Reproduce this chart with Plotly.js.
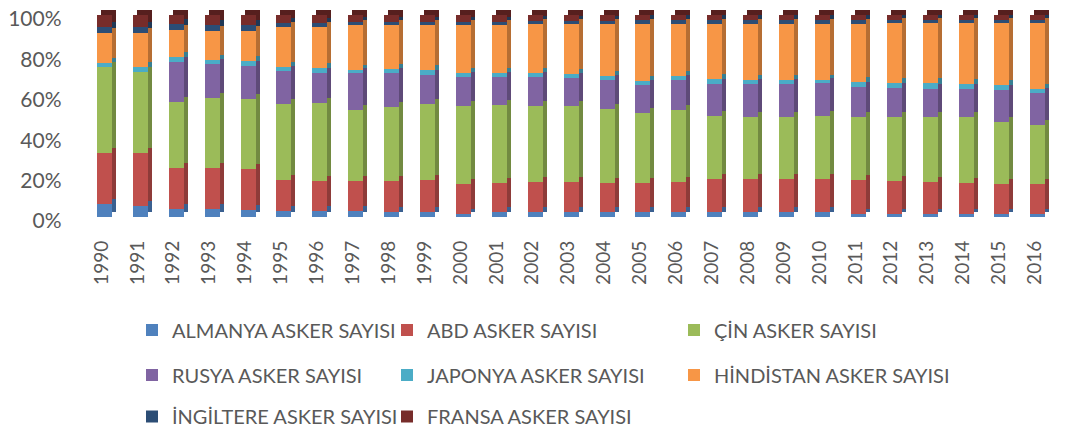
<!DOCTYPE html>
<html>
<head>
<meta charset="utf-8">
<script src="https://cdn.plot.ly/plotly-3.0.1.min.js"></script>
<style>html,body{margin:0;padding:0;background:#fff;}#chart{width:1065px;height:436px;}</style>
</head>
<body>
<div id="chart"></div>
<script>
// ---- data (share of each country's troops, %) ----
const years = ['1990','1991','1992','1993','1994','1995','1996','1997','1998','1999','2000','2001','2002','2003','2004','2005','2006','2007','2008','2009','2010','2011','2012','2013','2014','2015','2016'];
const seriesNames = ['ALMANYA ASKER SAYISI','ABD ASKER SAYISI','ÇİN ASKER SAYISI','RUSYA ASKER SAYISI','JAPONYA ASKER SAYISI','HİNDİSTAN ASKER SAYISI','İNGİLTERE ASKER SAYISI','FRANSA ASKER SAYISI'];
const almanya   = [6.3,5.3,4.1,4.1,3.6,3.0,3.0,3.0,2.5,2.5,1.7,2.5,2.5,2.5,2.5,2.5,2.5,2.5,2.5,2.5,2.5,1.7,1.7,1.7,1.7,1.7,1.7];
const abd       = [25.4,26.4,20.2,20.4,20.4,15.2,14.7,14.7,15.2,15.7,14.5,14.4,14.7,14.9,14.4,14.4,14.9,16.5,16.5,16.2,16.5,16.5,16.0,15.7,15.2,14.5,14.5];
const cin       = [42.7,40.2,32.7,34.2,34.3,37.7,38.8,35.5,36.8,37.5,38.7,38.5,37.7,37.5,36.8,34.7,35.8,30.9,30.6,30.9,31.1,31.4,31.9,32.2,32.4,30.9,29.3];
const rusya     = [null,null,19.9,16.8,16.6,16.3,14.9,17.9,16.6,14.5,14.2,13.7,14.2,13.7,14.1,13.7,14.6,15.9,16.0,16.0,16.0,14.9,14.5,14.0,14.3,16.0,16.0];
const japonya   = [2.0,2.5,2.1,2.2,2.3,2.2,2.2,1.9,2.1,2.5,2.3,2.3,2.0,2.1,2.0,2.0,2.0,2.3,2.2,2.2,1.7,2.4,2.3,2.5,2.2,2.2,2.1];
const hindistan = [14.5,16.5,13.6,14.5,15.0,19.8,20.6,22.0,21.8,22.3,23.6,23.6,24.3,24.8,25.7,28.2,25.7,27.4,27.7,27.7,27.7,28.6,29.5,29.8,30.1,30.6,32.3];
const ingiltere = [3.3,3.0,2.9,2.8,2.8,2.0,2.0,1.7,1.7,1.7,1.7,1.7,1.6,1.7,1.7,2.0,2.0,2.0,2.0,2.0,2.0,2.0,1.6,1.6,1.6,1.6,1.6];
const fransa    = [5.8,6.1,4.5,5.0,5.0,3.8,3.8,3.3,3.3,3.3,3.3,3.3,3.0,2.8,2.8,2.5,2.5,2.5,2.5,2.5,2.5,2.5,2.5,2.5,2.5,2.5,2.5];
const yTicks = [0,20,40,60,80,100];
const yTickLabels = ['0%','20%','40%','60%','80%','100%'];

const seriesValues = [almanya, abd, cin, rusya, japonya, hindistan, ingiltere, fransa];
const frontColors = ['#4F81BD','#C0504D','#9BBB59','#8064A2','#4BACC6','#F79646','#2C4D75','#772C2A'];
const sideColors  = ['#3A6090','#8E3B39','#728A41','#5E4A78','#377F93','#B66E33','#1F3856','#561F1E'];

// ---- geometry (pixels) ----
const W = 1065, H = 436;
const mL = 82, mR = 0, mT = 5, mB = 219;
const pw = W - mL - mR, ph = H - mT - mB;
const px2x = p => (p - mL) / pw;
const py2y = p => (H - mB - p) / ph;
const front = {x0: 86.5, x1: 1055.8, yb: 217, yt: 15};
const depth = {dx: 4, dy: 5};
const grid  = {x0: 82, x1: 1065, yb: 211, yt: 5};
const barW = 0.418;

const txt = '#595959';
const fam = 'Lato, "Open Sans", sans-serif';

const traces = [];
// back (depth) copies
seriesValues.forEach((vals, i) => {
  traces.push({type:'bar', x: years, y: vals, name: seriesNames[i], xaxis:'x2', yaxis:'y2',
    width: barW, marker:{color: sideColors[i], line:{width:0}}, showlegend:false, hoverinfo:'skip'});
});
// front faces
const legendPos = [
  [146, 330],[401, 330],[688, 330],
  [146, 375],[401, 375],[688, 375],
  [146, 417],[401, 417]
];
seriesValues.forEach((vals, i) => {
  traces.push({type:'bar', x: years, y: vals, name: seriesNames[i], xaxis:'x3', yaxis:'y3',
    width: barW, marker:{color: frontColors[i], line:{width:0}},
    legend: i === 0 ? 'legend' : 'legend' + (i + 1)});
});

const layout = {
  width: W, height: H,
  margin: {l: mL, r: mR, t: mT, b: mB, pad: 0},
  paper_bgcolor: '#fff', plot_bgcolor: 'rgba(0,0,0,0)',
  barmode: 'stack', barnorm: 'percent',
  font: {family: fam, color: txt},
  xaxis: {domain: [px2x(grid.x0), px2x(grid.x1)], range: [0, 1], visible: false, fixedrange: true},
  yaxis: {domain: [py2y(grid.yb), py2y(grid.yt)], range: [0, 100], tickvals: yTicks, showgrid: true,
          gridcolor: '#D9D9D9', gridwidth: 1.5, zeroline: false, showticklabels: false, showline: false, ticks: '', fixedrange: true},
  xaxis2: {domain: [px2x(front.x0 + depth.dx), px2x(front.x1 + depth.dx)], anchor: 'y2', type: 'category',
           range: [-0.5, 26.5], visible: false, fixedrange: true},
  yaxis2: {domain: [py2y(front.yb - depth.dy), py2y(front.yt - depth.dy)], anchor: 'x2', range: [0, 100],
           visible: false, fixedrange: true},
  xaxis3: {domain: [px2x(front.x0), px2x(front.x1)], anchor: 'y3', type: 'category', range: [-0.5, 26.5],
           tickangle: -90, tickfont: {family: fam, size: 19, color: txt}, showgrid: false, showline: false,
           zeroline: false, ticks: '', ticklabelstandoff: 19, ticklabelshift: -3, fixedrange: true},
  yaxis3: {domain: [py2y(front.yb), py2y(front.yt)], anchor: 'x3', range: [0, 100], tickvals: yTicks,
           ticktext: yTickLabels, tickfont: {family: fam, size: 21, color: txt}, showgrid: false, zeroline: false,
           showline: false, ticks: '', ticklabelstandoff: 24, ticklabelshift: 4, fixedrange: true},
  showlegend: true
};
legendPos.forEach((p, i) => {
  const key = i === 0 ? 'legend' : 'legend' + (i + 1);
  layout[key] = {x: px2x(p[0] - 14), y: py2y(p[1]), xanchor: 'left', yanchor: 'middle',
    orientation: 'h', bgcolor: 'rgba(0,0,0,0)', borderwidth: 0,
    font: {family: fam, size: 20, color: txt}, itemclick: false, itemdoubleclick: false};
});

Plotly.newPlot('chart', traces, layout, {staticPlot: true, displayModeBar: false});
</script>
</body>
</html>
